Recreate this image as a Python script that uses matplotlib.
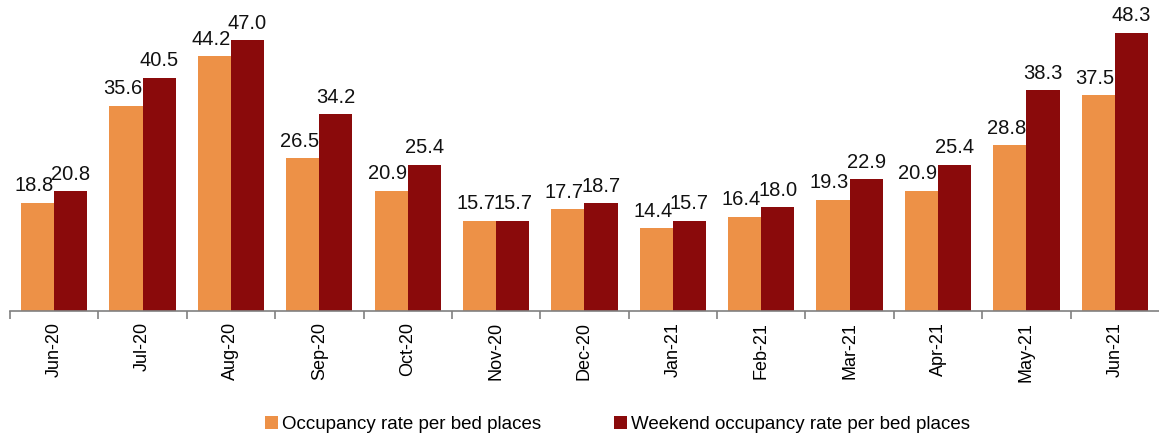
import matplotlib.pyplot as plt
import numpy as np

plt.rcParams['font.family'] = ['Liberation Sans', 'DejaVu Sans']

months = ['Jun-20', 'Jul-20', 'Aug-20', 'Sep-20', 'Oct-20', 'Nov-20', 'Dec-20',
          'Jan-21', 'Feb-21', 'Mar-21', 'Apr-21', 'May-21', 'Jun-21']
occupancy = [18.8, 35.6, 44.2, 26.5, 20.9, 15.7, 17.7, 14.4, 16.4, 19.3, 20.9, 28.8, 37.5]
weekend = [20.8, 40.5, 47.0, 34.2, 25.4, 15.7, 18.7, 15.7, 18.0, 22.9, 25.4, 38.3, 48.3]

orange = '#ED9147'
red = '#8A0A0B'

fig = plt.figure(figsize=(11.59, 4.43), dpi=100)
ax = fig.add_axes([0.0086, 0.298, 0.9914, 0.702])

x = np.arange(len(months))
w = 0.375
b1 = ax.bar(x - w / 2, occupancy, w, color=orange, label='Occupancy rate per bed places')
b2 = ax.bar(x + w / 2, weekend, w, color=red, label='Weekend occupancy rate per bed places')

# value labels, orange ones sit a touch left of their bar
for bars, vals, dx in ((b1, occupancy, -0.04), (b2, weekend, 0.0)):
    for r, v in zip(bars, vals):
        ax.text(r.get_x() + r.get_width() / 2 + dx, v + 1.3, f'{v:.1f}',
                ha='center', va='bottom', fontsize=14.5, color='#111111')

ax.set_xlim(-0.5, len(months) - 0.5)
ax.set_ylim(0, 54)

for s in ['top', 'right', 'left']:
    ax.spines[s].set_visible(False)
ax.spines['bottom'].set_color('#808080')
ax.spines['bottom'].set_linewidth(1.2)

ax.set_yticks([])
ax.set_xticks(x)
ax.set_xticklabels(months, rotation=90, fontsize=13)
ax.tick_params(axis='x', which='major', length=0, pad=8)
ax.set_xticks(np.arange(len(months)) - 0.5, minor=True)
ax.tick_params(axis='x', which='minor', length=6, color='#808080', width=1.2)

fig.legend(loc='lower center', bbox_to_anchor=(0.533, -0.015), ncol=2, frameon=False,
           fontsize=13.5, handlelength=0.7, handleheight=0.7, handletextpad=0.2,
           columnspacing=3.9)

fig.savefig('out.png', dpi=100)
